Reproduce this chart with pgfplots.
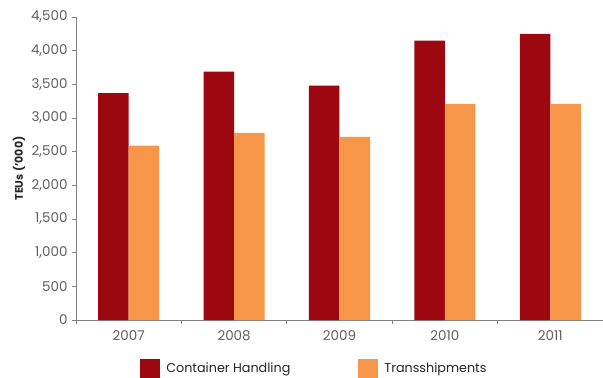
\documentclass[border=0pt]{standalone}
\usepackage{pgfplots}
\pgfplotsset{compat=1.18}
\usepackage{fontspec}
\setmainfont{Poppins}
\definecolor{cred}{HTML}{9D0710}
\definecolor{corange}{HTML}{F79548}
\definecolor{tickgray}{HTML}{5F5F5F}
\definecolor{axgray}{HTML}{808080}
\begin{document}
\begin{tikzpicture}
\path[use as bounding box] (-76bp,-58bp) rectangle (527bp,320bp);
\begin{axis}[
  at={(0,0)}, anchor=south west,
  scale only axis, width=527bp, height=303bp,
  ybar=0pt, bar width=30.5bp,
  xmin=-0.5, xmax=4.5, ymin=0, ymax=4500,
  ytick={0,500,...,4500},
  xtick={0,1,2,3,4},
  xticklabels={2007,2008,2009,2010,2011},
  minor xtick={-0.5,0.5,1.5,2.5,3.5,4.5},
  axis x line*=bottom, axis y line*=left,
  axis line style={axgray, line width=0.8pt},
  tick align=outside,
  major x tick style={draw=none},
  minor x tick style={axgray, line width=0.8pt},
  y tick style={axgray, line width=0.8pt},
  major tick length=4bp, minor tick length=4bp,
  scaled y ticks=false,
  /pgf/number format/.cd, assume math mode=true, 1000 sep={,}, /pgfplots/.cd,
  yticklabel style={font=\fontsize{13.5}{15}\selectfont, text=tickgray, xshift=-1bp},
  xticklabel style={font=\fontsize{13.5}{15}\selectfont, text=tickgray, yshift=-3bp},
  ylabel={\bfseries TEUs (’000)},
  ylabel style={font=\fontsize{11}{13}\selectfont, text=black!85, at={(axis description cs:-0.09,0.5)}},
  legend columns=2,
  legend style={draw=none, at={(axis description cs:0.116,-0.12)}, anchor=north west,
    font=\fontsize{12.8}{14}\selectfont, text=black!85,
    /tikz/every even column/.append style={column sep=66bp}},
  legend image code/.code={\fill[#1, draw=none] (0bp,-10bp) rectangle (20bp,10bp);},
]
\addplot[fill=cred, draw=none] coordinates {(0,3370) (1,3690) (2,3480) (3,4150) (4,4250)};
\addplot[fill=corange, draw=none] coordinates {(0,2590) (1,2780) (2,2720) (3,3210) (4,3210)};
\legend{\hspace*{4bp}Container Handling, \hspace*{4bp}Transshipments}
\end{axis}
\end{tikzpicture}
\end{document}
